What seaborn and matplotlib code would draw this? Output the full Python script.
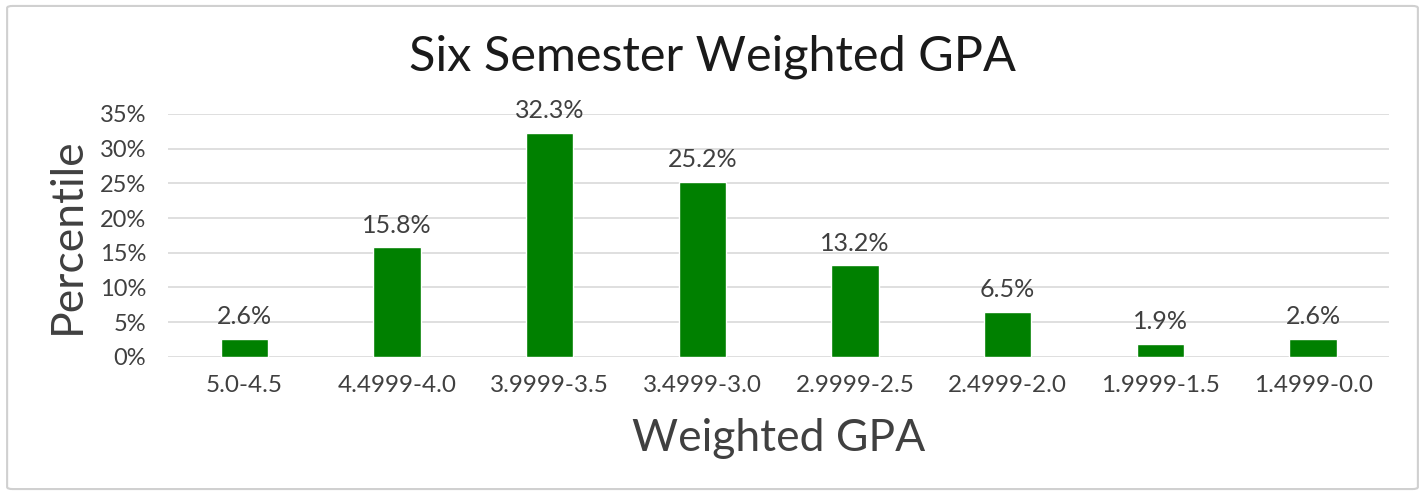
import matplotlib
matplotlib.use("Agg")
import matplotlib.pyplot as plt
import seaborn as sns
import pandas as pd
from matplotlib.patches import FancyBboxPatch

categories = ["5.0-4.5", "4.4999-4.0", "3.9999-3.5", "3.4999-3.0",
              "2.9999-2.5", "2.4999-2.0", "1.9999-1.5", "1.4999-0.0"]
values = [2.6, 15.8, 32.3, 25.2, 13.2, 6.5, 1.9, 2.6]
yticks = [0, 5, 10, 15, 20, 25, 30, 35]

sns.set_theme(style="white")
plt.rcParams['font.family'] = ['Lato', 'DejaVu Sans']
text_color = "#404040"

df = pd.DataFrame({"cat": categories, "val": values})

fig = plt.figure(figsize=(14.25, 4.95), dpi=100)
ax = fig.add_axes([0.118, 0.279, 0.857, 0.491])

sns.barplot(data=df, x="cat", y="val", color="#008000", width=0.31,
            saturation=1, ax=ax, zorder=3)

ax.set_ylim(0, 35)
ax.set_yticks(yticks)
ax.set_yticklabels([f"{t}%" for t in yticks])
ax.yaxis.grid(True, color="#d9d9d9", linewidth=1.2, zorder=0)
ax.set_axisbelow(True)
for s in ax.spines.values():
    s.set_visible(False)
ax.tick_params(axis="both", length=0, labelsize=17, colors=text_color)
ax.tick_params(axis="x", pad=13, labelsize=17.5)
ax.tick_params(axis="y", pad=16)

for i, v in enumerate(values):
    ax.text(i, v + 1.5, f"{v}%", ha="center", va="bottom", fontsize=18,
            color=text_color)

ax.set_xlabel("Weighted GPA", fontsize=32, color=text_color, labelpad=16)
ax.set_ylabel("Percentile", fontsize=32, color=text_color, labelpad=8)
fig.text(0.5, 0.885, "Six Semester Weighted GPA", ha="center", va="center",
         fontsize=35, color="#1a1a1a")

border = FancyBboxPatch((0.005, 0.012), 0.99, 0.976, transform=fig.transFigure,
                        boxstyle="round,pad=0,rounding_size=0.004",
                        facecolor="none", edgecolor="#d0d0d0", linewidth=1.5)
fig.patches.append(border)

fig.savefig("out.png", dpi=100)
